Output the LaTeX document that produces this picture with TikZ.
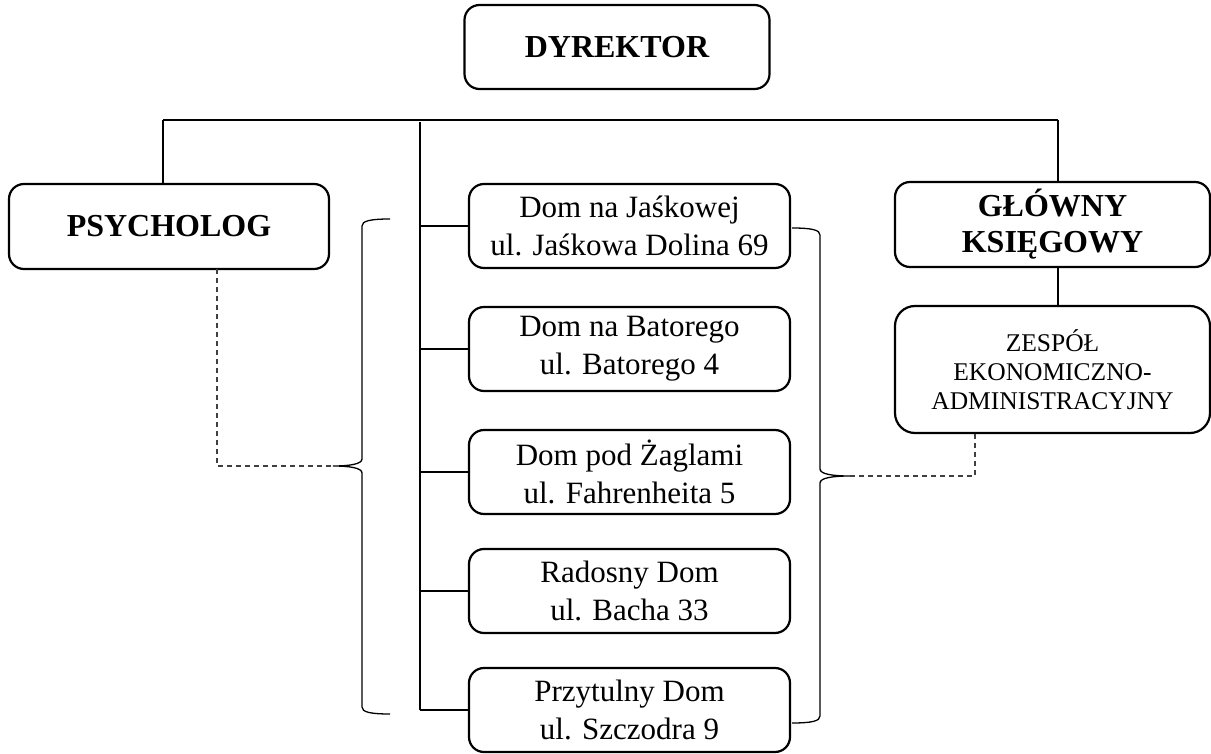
\documentclass[tikz,border=0pt]{standalone}
\usepackage{fontspec}
\setmainfont{Liberation Serif}
\tikzstyle{head}=[draw,rounded corners=15pt,line width=2.2pt,align=center,inner sep=0pt,font=\fontsize{32}{36}\selectfont\bfseries]
\tikzstyle{house}=[draw,rounded corners=15pt,line width=2.2pt,align=center,inner sep=0pt,minimum width=321pt,minimum height=84pt,font=\fontsize{31}{38}\selectfont]
\tikzstyle{team}=[draw,rounded corners=20pt,line width=2.2pt,align=center,inner sep=0pt,font=\fontsize{25.5}{29}\selectfont]
\tikzstyle{link}=[line width=1.1pt]
\tikzstyle{curly}=[line width=1.3pt]
\tikzstyle{dashlink}=[line width=1.3pt,dash pattern=on 5pt off 4pt,black!75]

\begin{document}
\begin{tikzpicture}[x=1pt,y=-1pt]
\useasboundingbox (0,0) rectangle (1211,754);

\node[head,minimum width=305pt,minimum height=84pt] (dyr) at (617,47) {DYREKTOR};
\node[head,minimum width=320pt,minimum height=85pt] (psy) at (169,226.5) {PSYCHOLOG};
\node[head,minimum width=315pt,minimum height=85pt] (gk) at (1052.5,224.5) {GŁÓWNY\\KSIĘGOWY};
\node[team,minimum width=315pt,minimum height=127pt] (zesp) at (1052.5,369.5) {ZESPÓŁ\\EKONOMICZNO-\\ADMINISTRACYJNY};

\node[house] (d1) at (629.5,226) {Dom na Jaśkowej\\ul. Jaśkowa Dolina 69};
\node[house] (d2) at (629.5,349) {Dom na Batorego\\ul. Batorego 4};
\node[house] (d3) at (629.5,472) {Dom pod Żaglami\\ul. Fahrenheita 5};
\node[house] (d4) at (629.5,591) {Radosny Dom\\ul. Bacha 33};
\node[house] (d5) at (629.5,710) {Przytulny Dom\\ul. Szczodra 9};

\coordinate (barL) at (163,120);
\coordinate (barR) at (1058,120);
\coordinate (trunk) at (420,122);
\coordinate (lbtip) at (333,466);
\coordinate (rbtip) at (850,476);
\coordinate (psyout) at (217,269);
\coordinate (zespout) at (975,433);

% top bar
\draw[link] (barL) -- (barR);
\draw[link] (barL) -- (barL |- psy.north);
\draw[link] (barR) -- (barR |- gk.north);
\draw[link] (gk.south -| barR) -- (zesp.north -| barR);

% houses
\draw[link] (trunk) -- (trunk |- d5.west);
\foreach \i in {1,...,5}
  \draw[link] (trunk |- d\i.west) -- (d\i.west);

% braces
\draw[curly] (390,219) .. controls (370,219) and (362,221) .. (362,226) -- (362,459)
  .. controls (362,464) and (350,466) .. (lbtip)
  .. controls (350,466) and (362,468) .. (362,473) -- (362,707)
  .. controls (362,712) and (370,714) .. (390,714);
\draw[curly] (792,228) .. controls (812,228) and (820,230) .. (820,235) -- (820,469)
  .. controls (820,474) and (832,476) .. (rbtip)
  .. controls (832,476) and (820,478) .. (820,483) -- (820,716)
  .. controls (820,721) and (812,723) .. (792,723);

% dashed links
\draw[dashlink] (psyout) -- (psyout |- lbtip) -- (lbtip);
\draw[dashlink] (rbtip) -- (rbtip -| zespout) -- (zespout);

\end{tikzpicture}
\end{document}
